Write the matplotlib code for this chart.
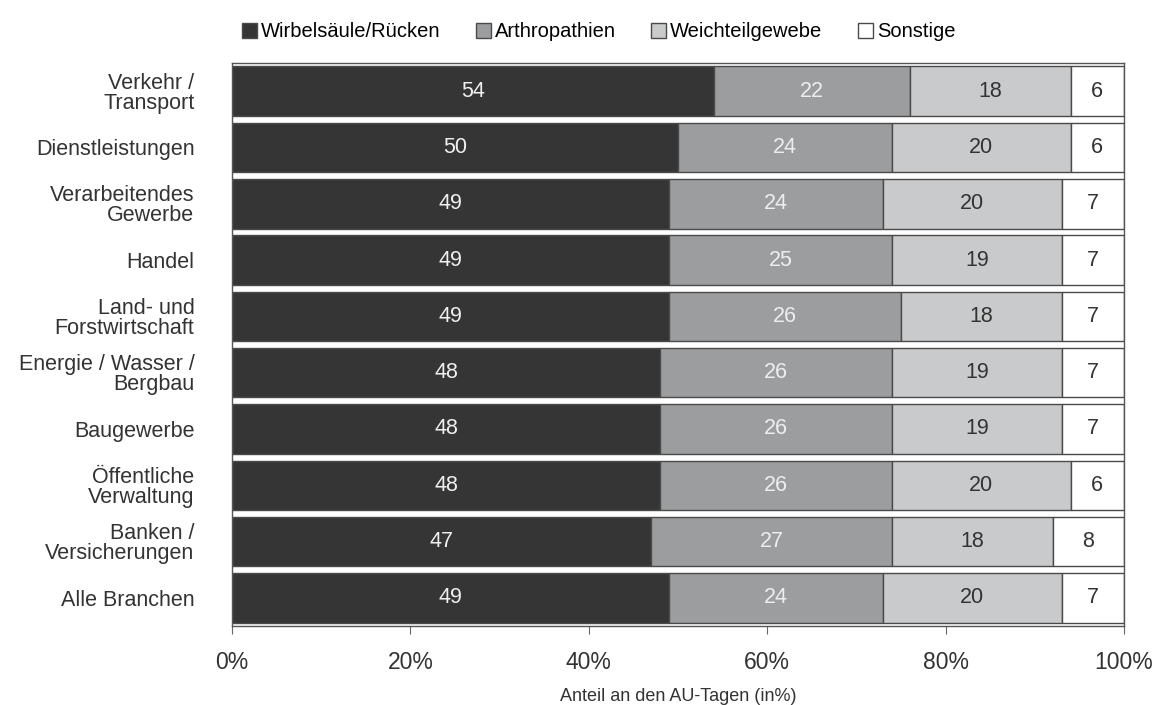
import matplotlib.pyplot as plt
import numpy as np

plt.rcParams['font.family'] = ['Liberation Sans', 'DejaVu Sans']

branchen = ["Verkehr /\nTransport", "Dienstleistungen", "Verarbeitendes\nGewerbe",
            "Handel", "Land- und\nForstwirtschaft", "Energie / Wasser /\nBergbau",
            "Baugewerbe", "Öffentliche\nVerwaltung", "Banken /\nVersicherungen",
            "Alle Branchen"]
wirbelsaeule = [54, 50, 49, 49, 49, 48, 48, 48, 47, 49]
arthropathien = [22, 24, 24, 25, 26, 26, 26, 26, 27, 24]
weichteil = [18, 20, 20, 19, 18, 19, 19, 20, 18, 20]
sonstige = [6, 6, 7, 7, 7, 7, 7, 6, 8, 7]

serien = ["Wirbelsäule/Rücken", "Arthropathien", "Weichteilgewebe", "Sonstige"]
farben = ["#353535", "#9c9d9f", "#c9cacb", "#ffffff"]
textfarben = ["#f0f0f0", "#eeeeee", "#333333", "#333333"]

fig = plt.figure(figsize=(11.53, 7.05), dpi=100)
ax = fig.add_axes([0.2012, 0.112, 0.7737, 0.7986])

y = np.arange(len(branchen))
links = np.zeros(len(branchen))
for name, werte, fc, tc in zip(serien, [wirbelsaeule, arthropathien, weichteil, sonstige],
                               farben, textfarben):
    werte = np.array(werte, dtype=float)
    bars = ax.barh(y, werte, left=links, height=0.88, color=fc,
                   edgecolor="#4a4a4a", linewidth=1.0, label=name)
    for b, w in zip(bars, werte):
        ax.text(b.get_x() + w / 2, b.get_y() + b.get_height() / 2, f"{w:.0f}",
                ha="center", va="center", color=tc, fontsize=15.5)
    links += werte

ax.set_xlim(0, 100)
ax.set_ylim(len(branchen) - 0.5, -0.5)
ax.set_yticks(y)
ax.set_yticklabels(branchen, fontsize=15.5, color="#333333", linespacing=0.95)
ax.tick_params(axis="y", length=0, pad=27)
ax.set_xticks(np.arange(0, 101, 20))
ax.set_xticklabels([f"{v}%" for v in range(0, 101, 20)], fontsize=16.5, color="#333333")
ax.tick_params(axis="x", length=6, color="#666666", pad=12)
ax.set_xlabel("Anteil an den AU-Tagen (in%)", fontsize=13, color="#333333", labelpad=10)
for s in ax.spines.values():
    s.set_color("#555555")
    s.set_linewidth(1.0)

fig.legend(loc="upper center", bbox_to_anchor=(0.519, 0.994), ncol=4, frameon=False,
           fontsize=14.5, handlelength=0.75, handleheight=0.75, handletextpad=0.2,
           columnspacing=1.75)

fig.savefig("out.png", dpi=100, facecolor="white")
